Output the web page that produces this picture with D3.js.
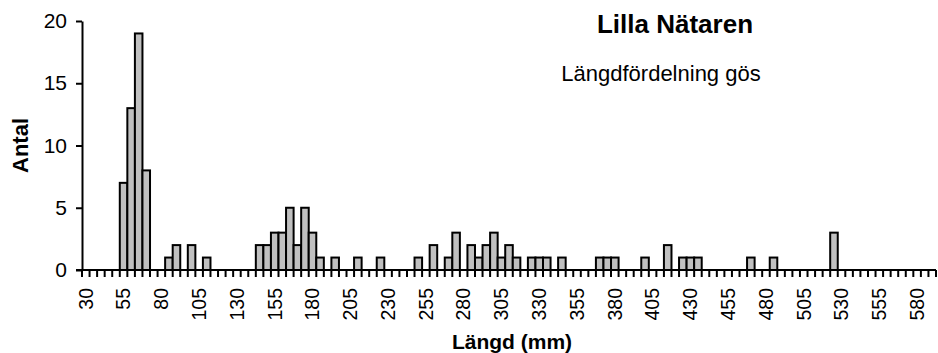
<!DOCTYPE html>
<html>
<head>
<meta charset="utf-8">
<script src="https://cdn.jsdelivr.net/npm/d3@7"></script>
<style>
  html, body { margin: 0; padding: 0; background: #fff; }
  svg { display: block; font-family: "Liberation Sans", Arial, sans-serif; }
</style>
</head>
<body>
<svg id="chart" width="938" height="353"></svg>
<script>
const categories = [
  30, 35, 40, 45, 50, 55, 60, 65, 70, 75,
  80, 85, 90, 95, 100, 105, 110, 115, 120, 125,
  130, 135, 140, 145, 150, 155, 160, 165, 170, 175,
  180, 185, 190, 195, 200, 205, 210, 215, 220, 225,
  230, 235, 240, 245, 250, 255, 260, 265, 270, 275,
  280, 285, 290, 295, 300, 305, 310, 315, 320, 325,
  330, 335, 340, 345, 350, 355, 360, 365, 370, 375,
  380, 385, 390, 395, 400, 405, 410, 415, 420, 425,
  430, 435, 440, 445, 450, 455, 460, 465, 470, 475,
  480, 485, 490, 495, 500, 505, 510, 515, 520, 525,
  530, 535, 540, 545, 550, 555, 560, 565, 570, 575,
  580, 585, 590
];
const counts = [
  0, 0, 0, 0, 0, 7, 13, 19, 8, 0,
  0, 1, 2, 0, 2, 0, 1, 0, 0, 0,
  0, 0, 0, 2, 2, 3, 3, 5, 2, 5,
  3, 1, 0, 1, 0, 0, 1, 0, 0, 1,
  0, 0, 0, 0, 1, 0, 2, 0, 1, 3,
  0, 2, 1, 2, 3, 1, 2, 1, 0, 1,
  1, 1, 0, 1, 0, 0, 0, 0, 1, 1,
  1, 0, 0, 0, 1, 0, 0, 2, 0, 1,
  1, 1, 0, 0, 0, 0, 0, 0, 1, 0,
  0, 1, 0, 0, 0, 0, 0, 0, 0, 3,
  0, 0, 0, 0, 0, 0, 0, 0, 0, 0,
  0, 0, 0
];
const xTickLabels = [30, 55, 80, 105, 130, 155, 180, 205, 230, 255, 280, 305, 330, 355, 380, 405, 430, 455, 480, 505, 530, 555, 580];
const yTicks = [0, 5, 10, 15, 20];
const chartTitle = "Lilla Nätaren";
const subTitle = "Längdfördelning gös";
const xTitle = "Längd (mm)";
const yTitle = "Antal";

const svg = d3.select("#chart");
const mLeft = 82, mRight = 936, mTop = 21, mBottom = 270;

const x = d3.scaleBand().domain(categories).range([mLeft, mRight]).padding(0);
const y = d3.scaleLinear().domain([0, 20]).range([mBottom, mTop]);

// bars
svg.append("g").selectAll("rect")
  .data(categories.map((c, i) => ({ c, v: counts[i] })).filter(d => d.v > 0))
  .join("rect")
  .attr("x", d => x(d.c))
  .attr("y", d => y(d.v))
  .attr("width", x.bandwidth())
  .attr("height", d => y(0) - y(d.v))
  .attr("fill", "#c0c0c0")
  .attr("stroke", "#000")
  .attr("stroke-width", 2);

// x tick marks at band boundaries
const bounds = categories.map(c => x(c)).concat([x(categories[categories.length - 1]) + x.bandwidth()]);
svg.append("g").selectAll("line")
  .data(bounds)
  .join("line")
  .attr("x1", d => d).attr("x2", d => d)
  .attr("y1", mBottom).attr("y2", mBottom + 7)
  .attr("stroke", "#000").attr("stroke-width", 2);

// x axis labels
svg.append("g").selectAll("text")
  .data(xTickLabels)
  .join("text")
  .attr("transform", d => `translate(${x(d) + x.bandwidth() / 2},${mBottom + 18}) rotate(-90)`)
  .attr("text-anchor", "end")
  .attr("dy", "0.35em")
  .attr("font-size", 19.5)
  .attr("fill", "#000")
  .text(d => d);

// y axis
const yAxis = d3.axisLeft(y).tickValues(yTicks).tickSize(6).tickPadding(9).tickSizeOuter(0);
const gy = svg.append("g").attr("transform", `translate(${mLeft},0)`).call(yAxis);
gy.select(".domain").attr("stroke", "#000").attr("stroke-width", 2);
gy.selectAll(".tick line").attr("stroke", "#000").attr("stroke-width", 2);
gy.selectAll(".tick text").attr("font-size", 21).attr("font-family", "Liberation Sans, Arial, sans-serif").attr("fill", "#000");

// x axis line
svg.append("line")
  .attr("x1", mLeft - 6).attr("x2", mRight)
  .attr("y1", mBottom).attr("y2", mBottom)
  .attr("stroke", "#000").attr("stroke-width", 2);

// titles
svg.append("text")
  .attr("x", 675).attr("y", 33)
  .attr("text-anchor", "middle")
  .attr("font-size", 26).attr("font-weight", "bold")
  .text(chartTitle);

svg.append("text")
  .attr("x", 661).attr("y", 81)
  .attr("text-anchor", "middle")
  .attr("font-size", 22)
  .text(subTitle);

svg.append("text")
  .attr("x", 512).attr("y", 349)
  .attr("text-anchor", "middle")
  .attr("font-size", 21).attr("font-weight", "bold")
  .text(xTitle);

svg.append("text")
  .attr("transform", `translate(28,${(mTop + mBottom) / 2}) rotate(-90)`)
  .attr("text-anchor", "middle")
  .attr("font-size", 22).attr("font-weight", "bold")
  .text(yTitle);
</script>
</body>
</html>
